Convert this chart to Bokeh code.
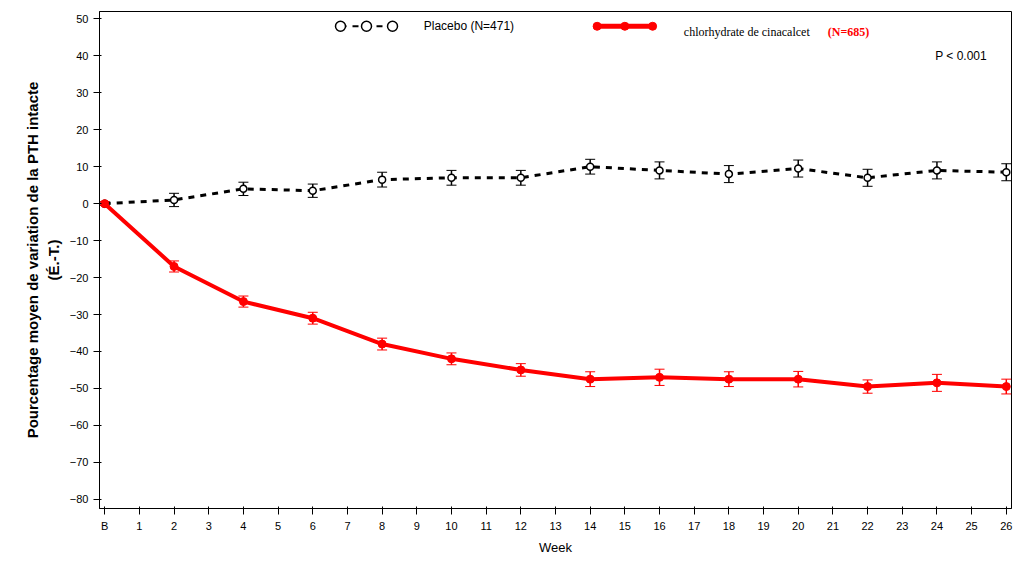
from bokeh.plotting import figure
from bokeh.models import Whisker, ColumnDataSource, FixedTicker, Label, Range1d
from bokeh.embed import file_html
from bokeh.resources import INLINE

weeks = [0, 2, 4, 6, 8, 10, 12, 14, 16, 18, 20, 22, 24, 26]
placebo = [0, 1, 4, 3.5, 6.5, 7, 7, 10, 9, 8, 9.5, 7, 9, 8.5]
placebo_se = [0.5, 1.8, 1.8, 1.8, 2, 2, 2, 2, 2.3, 2.3, 2.3, 2.3, 2.3, 2.3]
cina = [0, -17, -26.5, -31, -38, -42, -45, -47.5, -47, -47.5, -47.5, -49.5, -48.5, -49.5]
cina_se = [0.5, 1.5, 1.5, 1.6, 1.6, 1.6, 1.7, 2, 2.2, 2, 2.1, 1.8, 2.3, 2]
y_ticks = list(range(-80, 51, 10))
x_labels = {0: "B", **{i: str(i) for i in range(1, 27)}}

p = figure(width=1013, height=557, output_backend="svg", toolbar_location=None,
           x_range=Range1d(-0.15, 26.15), y_range=Range1d(-82.5, 52),
           min_border_left=99, min_border_right=2, min_border_top=11, min_border_bottom=45)
p.grid.visible = False
p.outline_line_color = "black"
p.xaxis.ticker = FixedTicker(ticks=list(range(27)))
p.xaxis.major_label_overrides = x_labels
p.yaxis.ticker = FixedTicker(ticks=y_ticks)
p.xaxis.axis_label = "Week"
p.yaxis.axis_label = "Pourcentage moyen de variation de la PTH intacte\n(É.-T.)"
for ax in (p.xaxis, p.yaxis):
    ax.major_label_text_font = "Liberation Sans"
    ax.major_label_text_font_size = "11px"
    ax.major_label_text_color = "black"
    ax.axis_label_text_color = "black"
    ax.axis_line_color = "black"
    ax.major_tick_line_color = "black"
    ax.axis_label_text_font = "Liberation Sans"
    ax.axis_label_text_font_style = "normal"
    ax.minor_tick_line_color = None
p.yaxis.axis_label_text_font_style = "bold"
p.yaxis.axis_label_text_font_size = "15px"
p.xaxis.axis_label_text_font_size = "13px"

for ys, se, col, dash in [(placebo, placebo_se, "black", "dashed"), (cina, cina_se, "red", "solid")]:
    src = ColumnDataSource(dict(x=weeks, y=ys, lo=[a - b for a, b in zip(ys, se)],
                                up=[a + b for a, b in zip(ys, se)]))
    p.line("x", "y", source=src, color=col, line_width=3 if col == "black" else 4, line_dash=dash)
    w = Whisker(base="x", lower="lo", upper="up", source=src, line_color=col, line_width=1.5)
    w.upper_head.line_color = col
    w.lower_head.line_color = col
    w.upper_head.size = 10
    w.lower_head.size = 10
    p.add_layout(w)
    if col == "black":
        p.scatter("x", "y", source=src, size=7, fill_color="white", line_color="black", line_width=1.5)
    else:
        p.scatter("x", "y", source=src, size=8, color="red")

# legend
p.line([6.8, 8.3], [48, 48], color="black", line_width=2, line_dash="dashed")
p.scatter([6.8, 7.55, 8.3], [48] * 3, size=10, fill_color="white", line_color="black", line_width=1.5)
p.add_layout(Label(x=9.2, y=48, text="Placebo (N=471)", text_font="Liberation Sans",
                   text_font_size="12px", text_baseline="middle", text_color="black"))
p.line([14.1, 15.9], [48, 48], color="red", line_width=5)
p.scatter([14.2, 15.0, 15.8], [48] * 3, size=8, color="red")
p.add_layout(Label(x=16.7, y=46.5, text="chlorhydrate de cinacalcet", text_font="Liberation Serif",
                   text_font_size="12px", text_baseline="middle", text_color="black"))
p.add_layout(Label(x=20.85, y=46.5, text="(N=685)", text_font="Liberation Serif", text_color="red",
                   text_font_style="bold", text_font_size="12px", text_baseline="middle"))
p.add_layout(Label(x=23.95, y=40, text="P < 0.001", text_font="Liberation Sans",
                   text_font_size="12px", text_baseline="middle", text_color="black"))

open("out.html", "w").write(file_html(p, INLINE))
